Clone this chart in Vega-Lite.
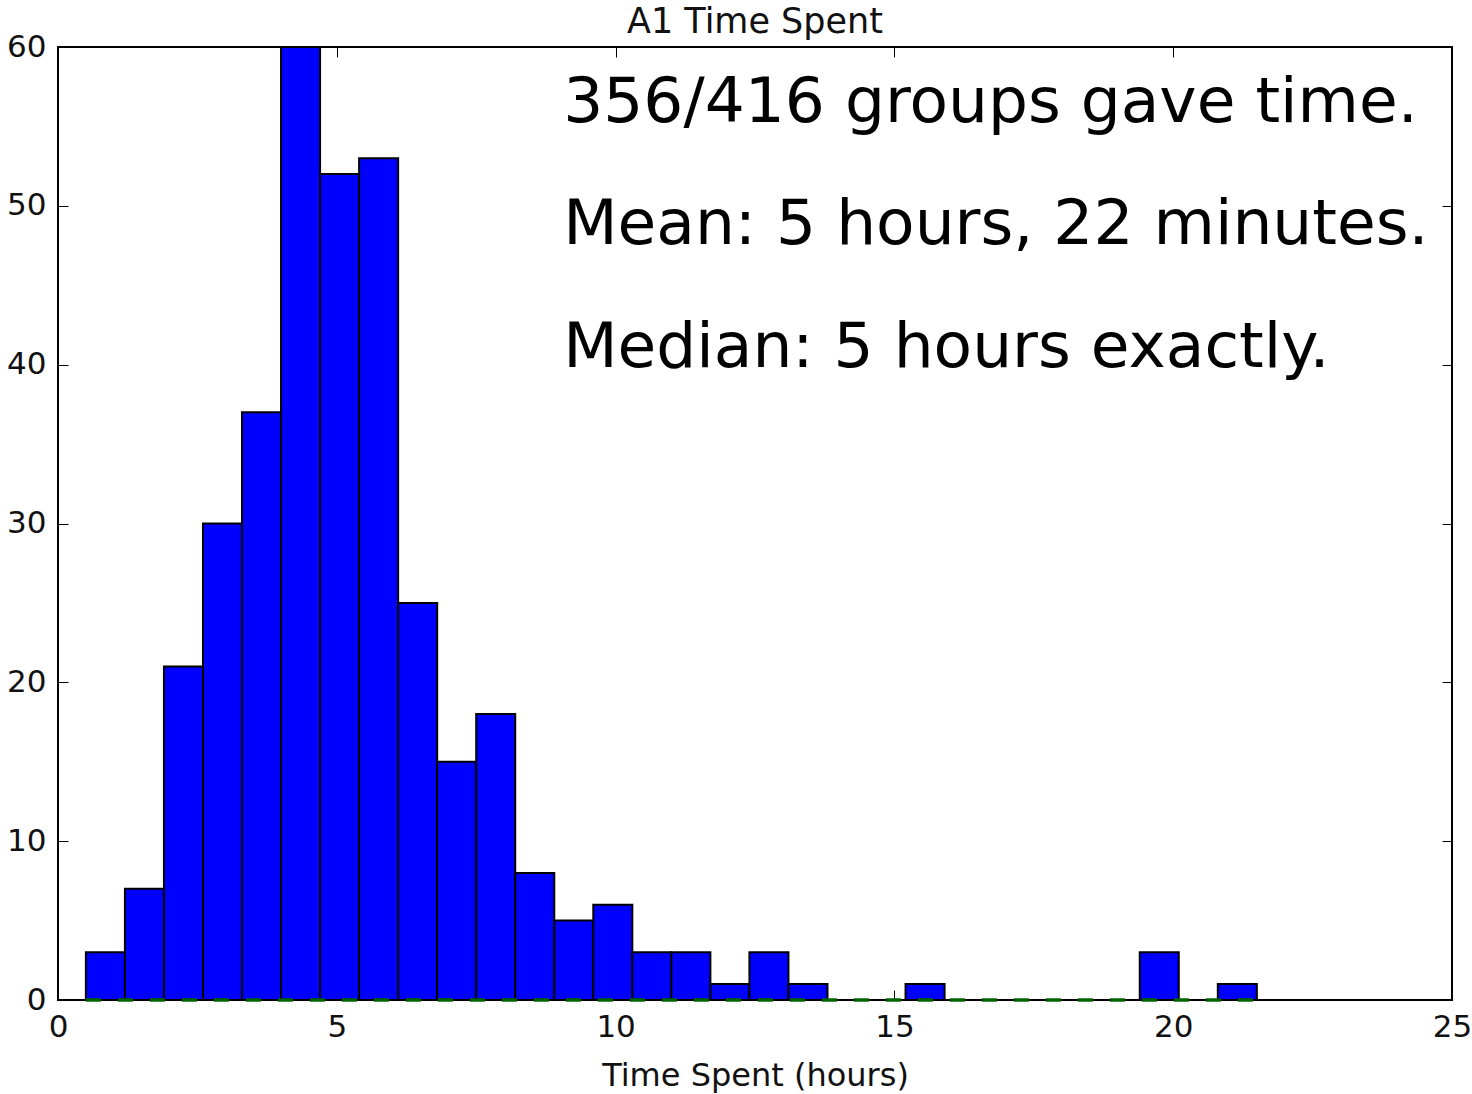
{
  "$schema": "https://vega.github.io/schema/vega-lite/v6.json",
  "autosize": {"type": "none"},
  "width": 1394,
  "height": 953,
  "padding": {"left": 58, "top": 47, "right": 20, "bottom": 94},
  "background": "white",
  "config": {
    "font": "DejaVu Sans",
    "view": {"stroke": "black", "strokeWidth": 2},
    "axis": {
      "domain": false,
      "grid": false,
      "tickColor": "black",
      "tickWidth": 1,
      "tickSize": -10,
      "labelFont": "DejaVu Sans",
      "labelFontSize": 31,
      "labelColor": "#111111",
      "labelFlush": false,
      "labelOverlap": false,
      "titleFont": "DejaVu Sans",
      "titleFontSize": 32,
      "titleFontWeight": "normal",
      "titleColor": "#111111"
    }
  },
  "title": {
    "text": "A1 Time Spent",
    "font": "DejaVu Sans",
    "fontSize": 35,
    "fontWeight": "normal",
    "color": "#111111",
    "baseline": "alphabetic",
    "offset": -37
  },
  "datasets": {
    "bins": [
      {"bin_start": 0.5, "bin_end": 1.2, "count": 3},
      {"bin_start": 1.2, "bin_end": 1.9, "count": 7},
      {"bin_start": 1.9, "bin_end": 2.6, "count": 21},
      {"bin_start": 2.6, "bin_end": 3.3, "count": 30},
      {"bin_start": 3.3, "bin_end": 4.0, "count": 37},
      {"bin_start": 4.0, "bin_end": 4.7, "count": 60},
      {"bin_start": 4.7, "bin_end": 5.4, "count": 52},
      {"bin_start": 5.4, "bin_end": 6.1, "count": 53},
      {"bin_start": 6.1, "bin_end": 6.8, "count": 25},
      {"bin_start": 6.8, "bin_end": 7.5, "count": 15},
      {"bin_start": 7.5, "bin_end": 8.2, "count": 18},
      {"bin_start": 8.2, "bin_end": 8.9, "count": 8},
      {"bin_start": 8.9, "bin_end": 9.6, "count": 5},
      {"bin_start": 9.6, "bin_end": 10.3, "count": 6},
      {"bin_start": 10.3, "bin_end": 11.0, "count": 3},
      {"bin_start": 11.0, "bin_end": 11.7, "count": 3},
      {"bin_start": 11.7, "bin_end": 12.4, "count": 1},
      {"bin_start": 12.4, "bin_end": 13.1, "count": 3},
      {"bin_start": 13.1, "bin_end": 13.8, "count": 1},
      {"bin_start": 13.8, "bin_end": 14.5, "count": 0},
      {"bin_start": 14.5, "bin_end": 15.2, "count": 0},
      {"bin_start": 15.2, "bin_end": 15.9, "count": 1},
      {"bin_start": 15.9, "bin_end": 16.6, "count": 0},
      {"bin_start": 16.6, "bin_end": 17.3, "count": 0},
      {"bin_start": 17.3, "bin_end": 18.0, "count": 0},
      {"bin_start": 18.0, "bin_end": 18.7, "count": 0},
      {"bin_start": 18.7, "bin_end": 19.4, "count": 0},
      {"bin_start": 19.4, "bin_end": 20.1, "count": 3},
      {"bin_start": 20.1, "bin_end": 20.8, "count": 0},
      {"bin_start": 20.8, "bin_end": 21.5, "count": 1}
    ],
    "curve": [
      {"hours": 0.5, "density": 0},
      {"hours": 21.5, "density": 0}
    ],
    "notes": [
      {"label": "356/416 groups gave time.", "tx": 9.06, "ty": 55.28},
      {"label": "Mean: 5 hours, 22 minutes.", "tx": 9.06, "ty": 47.6},
      {"label": "Median: 5 hours exactly.", "tx": 9.06, "ty": 39.85}
    ]
  },
  "layer": [
    {
      "data": {"name": "bins"},
      "mark": {"type": "rect", "fill": "#0000ff", "stroke": "black", "strokeWidth": 2},
      "encoding": {
        "x": {
          "field": "bin_start", "type": "quantitative",
          "scale": {"domain": [0, 25], "nice": false, "zero": false},
          "axis": {"orient": "bottom", "values": [0, 5, 10, 15, 20, 25], "labelPadding": 22, "title": "Time Spent (hours)", "titlePadding": 18}
        },
        "x2": {"field": "bin_end"},
        "y": {
          "field": "count", "type": "quantitative",
          "scale": {"domain": [0, 60], "nice": false},
          "axis": {"orient": "left", "values": [0, 10, 20, 30, 40, 50, 60], "labelPadding": 22, "title": null}
        },
        "y2": {"datum": 0}
      }
    },
    {
      "data": {"name": "curve"},
      "mark": {"type": "line", "color": "#006400", "strokeWidth": 3.5, "strokeDash": [15, 17]},
      "encoding": {
        "x": {
          "field": "hours", "type": "quantitative",
          "axis": {"orient": "top", "values": [0, 5, 10, 15, 20, 25], "labels": false, "title": null}
        },
        "y": {
          "field": "density", "type": "quantitative",
          "axis": {"orient": "right", "values": [0, 10, 20, 30, 40, 50, 60], "labels": false, "title": null}
        }
      }
    },
    {
      "data": {"name": "notes"},
      "mark": {"type": "text", "align": "left", "baseline": "alphabetic", "font": "DejaVu Sans", "fontSize": 63, "color": "black"},
      "encoding": {
        "x": {"field": "tx", "type": "quantitative", "axis": null},
        "y": {"field": "ty", "type": "quantitative", "axis": null},
        "text": {"field": "label"}
      }
    }
  ],
  "resolve": {"axis": {"x": "independent", "y": "independent"}}
}
